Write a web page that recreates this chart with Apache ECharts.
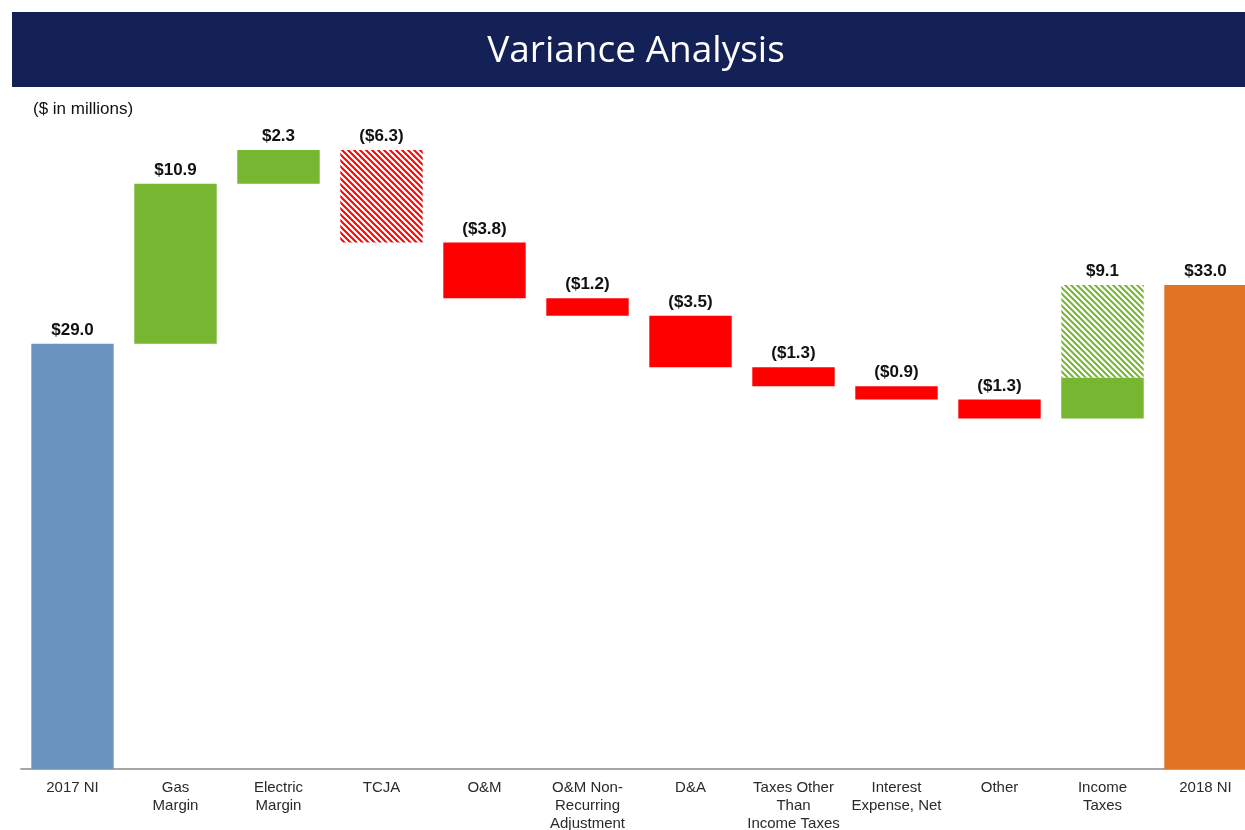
<!DOCTYPE html>
<html>
<head>
<meta charset="utf-8">
<script src="https://cdn.jsdelivr.net/npm/echarts@6/dist/echarts.min.js"></script>
<style>
  html, body { margin: 0; padding: 0; background: #fff; overflow: hidden; }
  /* chart runs a little past the right edge, like the slide it comes from */
  #chart { width: 1257px; height: 830px; }
</style>
</head>
<body>
<div id="chart"></div>
<script>
// waterfall data ($ in millions)
const categories = ['2017 NI', 'Gas\nMargin', 'Electric\nMargin', 'TCJA', 'O&M', 'O&M Non-\nRecurring\nAdjustment',
  'D&A', 'Taxes Other\nThan\nIncome Taxes', 'Interest\nExpense, Net', 'Other', 'Income\nTaxes', '2018 NI'];
const changes = [29.0, 10.9, 2.3, -6.3, -3.8, -1.2, -3.5, -1.3, -0.9, -1.3, 9.1, 33.0];
const hatchedPart = [0, 0, 0, 6.3, 0, 0, 0, 0, 0, 0, 6.3, 0]; // TCJA effect (striped)
const isTotal = [true, false, false, false, false, false, false, false, false, false, false, true];

const BLUE = '#6B94C1', GREEN = '#76B631', RED = '#FF0000', ORANGE = '#E07424';

// striped fill
function stripes(color) {
  const c = document.createElement('canvas');
  c.width = 6; c.height = 6;
  const g = c.getContext('2d');
  g.fillStyle = '#fff';
  g.fillRect(0, 0, 6, 6);
  g.strokeStyle = color;
  g.lineWidth = 2;
  g.beginPath();
  g.moveTo(-3, -3); g.lineTo(9, 9);
  g.moveTo(-3, 3); g.lineTo(3, 9);
  g.moveTo(3, -3); g.lineTo(9, 3);
  g.stroke();
  return { image: c, repeat: 'repeat' };
}

function fmt(v) {
  return v < 0 ? '($' + Math.abs(v).toFixed(1) + ')' : '$' + v.toFixed(1);
}

// build stacked pieces
const baseData = [], solidData = [], hatchData = [];
let running = 0;
changes.forEach((v, i) => {
  let base, size;
  if (isTotal[i]) { base = 0; size = v; running = v; }
  else if (v >= 0) { base = running; size = v; running += v; }
  else { base = running + v; size = -v; running += v; }
  const h = hatchedPart[i];
  const s = +(size - h).toFixed(2);
  let solidColor = isTotal[i] ? (i === 0 ? BLUE : ORANGE) : (v >= 0 ? GREEN : RED);
  const lbl = { show: true, position: 'top', formatter: fmt(v) };
  baseData.push(+base.toFixed(2));
  solidData.push({ value: s, itemStyle: { color: solidColor }, label: h > 0 ? { show: false } : lbl });
  hatchData.push({ value: h, itemStyle: { color: stripes(v >= 0 ? GREEN : RED) }, label: h > 0 ? lbl : { show: false } });
});

const chart = echarts.init(document.getElementById('chart'));
const labelStyle = { fontFamily: 'Liberation Sans, Arial', fontSize: 17, fontWeight: 'bold', color: '#111', distance: 5 };
chart.setOption({
  animation: false,
  graphic: [
    { type: 'rect', left: 12, top: 12, shape: { width: 1233, height: 75 }, style: { fill: '#142157' } },
    { type: 'text', x: 636, y: 51, style: { text: 'Variance Analysis', fill: '#fff', font: '37px "Open Sans"', align: 'center', verticalAlign: 'middle' } },
    { type: 'text', left: 33, top: 101, style: { text: '($ in millions)', fill: '#111', font: '17px "Liberation Sans"' } }
  ],
  grid: { left: 21, right: 0, top: 109, bottom: 61, outerBoundsMode: 'none' },
  xAxis: {
    type: 'category',
    data: categories,
    axisLine: { lineStyle: { color: '#A6A6A6', width: 2 } },
    axisTick: { show: false },
    axisLabel: { interval: 0, color: '#2a2a2a', fontFamily: 'Liberation Sans, Arial', fontSize: 15, lineHeight: 18, margin: 10 }
  },
  yAxis: { type: 'value', min: 0, max: 45, show: false, splitLine: { show: false } },
  series: [
    { type: 'bar', stack: 'w', data: baseData, itemStyle: { color: 'transparent' }, barWidth: '80%', silent: true },
    { type: 'bar', stack: 'w', data: solidData, barWidth: '80%', label: labelStyle },
    { type: 'bar', stack: 'w', data: hatchData, barWidth: '80%', label: labelStyle }
  ]
});
</script>
</body>
</html>
